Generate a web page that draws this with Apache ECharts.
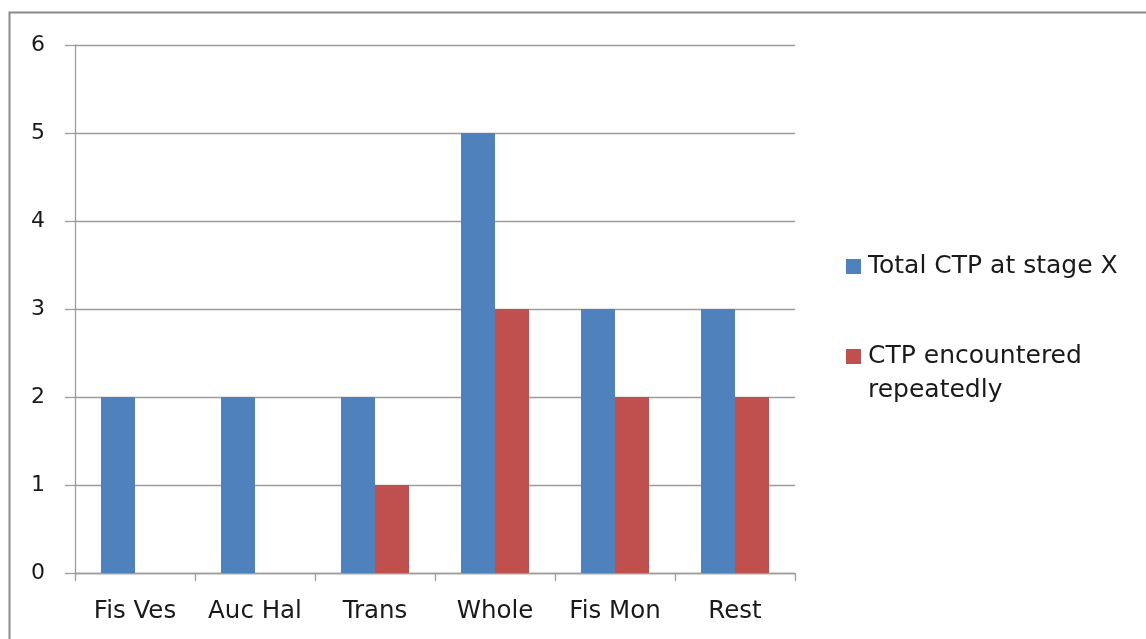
<!DOCTYPE html>
<html>
<head>
<meta charset="utf-8">
<title>CTP by stage</title>
<script src="https://cdn.jsdelivr.net/npm/echarts@6/dist/echarts.min.js"></script>
<style>
  html, body { margin: 0; padding: 0; background: #fff; }
  #chart { width: 1146px; height: 639px; }
</style>
</head>
<body>
<div id="chart"></div>
<script>
// Stage categories along the x axis
const categories = ['Fis Ves', 'Auc Hal', 'Trans', 'Whole', 'Fis Mon', 'Rest'];
// Series values
const totalCTP = [2, 2, 2, 5, 3, 3];
const repeatedCTP = [0, 0, 1, 3, 2, 2];
// Series names
const seriesNames = ['Total CTP at stage X', 'CTP encountered repeatedly'];

const FONT = '"DejaVu Sans", "Open Sans", sans-serif';
const TEXT = '#1a1a1a';
const LINE = '#9d9d9d';

const chart = echarts.init(document.getElementById('chart'), null, { renderer: 'canvas' });

const legendText = { fontFamily: FONT, fontSize: 25, color: TEXT, lineHeight: 34, padding: [0, 0, 0, 2] };

chart.setOption({
  backgroundColor: '#ffffff',
  animation: false,
  textStyle: { fontFamily: FONT },
  graphic: [{
    type: 'rect',
    left: 7, top: 10,
    shape: { width: 1300, height: 800 },
    style: { fill: 'none', stroke: '#8a8a8a', lineWidth: 2 },
    silent: true
  }],
  grid: { left: 75, right: 351, top: 45, bottom: 66, containLabel: false },
  legend: [{
    orient: 'vertical',
    left: 846, top: 249.5,
    padding: 0,
    itemWidth: 15, itemHeight: 15,
    icon: 'rect',
    data: [seriesNames[0]],
    textStyle: legendText
  }, {
    orient: 'vertical',
    left: 846, top: 305.5,
    padding: 0,
    itemWidth: 15, itemHeight: 15,
    icon: 'rect',
    data: [seriesNames[1]],
    // the blank leading line keeps the swatch beside the first text line
    formatter: () => ' \nCTP encountered\nrepeatedly',
    textStyle: legendText
  }],
  xAxis: {
    type: 'category',
    data: categories,
    boundaryGap: true,
    axisLine: { lineStyle: { color: LINE, width: 1.3 } },
    axisTick: { show: true, interval: 0, alignWithLabel: false, length: 8, lineStyle: { color: LINE, width: 1.3 } },
    axisLabel: { interval: 0, hideOverlap: false, color: TEXT, fontSize: 24.5, fontFamily: FONT, margin: 26 },
    splitLine: { show: false }
  },
  yAxis: {
    type: 'value',
    min: 0, max: 6, interval: 1,
    axisLine: { show: true, lineStyle: { color: LINE, width: 1.3 } },
    axisTick: { show: true, length: 10, lineStyle: { color: LINE, width: 1.3 } },
    axisLabel: { color: TEXT, fontSize: 22, fontFamily: FONT, margin: 30, padding: [4, 0, 0, 0] },
    splitLine: { show: true, lineStyle: { color: LINE, width: 1.3 } }
  },
  series: [{
    name: seriesNames[0],
    type: 'bar',
    data: totalCTP,
    barWidth: 34,
    barGap: '0%',
    itemStyle: { color: '#4f81bd' }
  }, {
    name: seriesNames[1],
    type: 'bar',
    data: repeatedCTP,
    barWidth: 34,
    barGap: '0%',
    itemStyle: { color: '#c0504d' }
  }]
});
</script>
</body>
</html>
